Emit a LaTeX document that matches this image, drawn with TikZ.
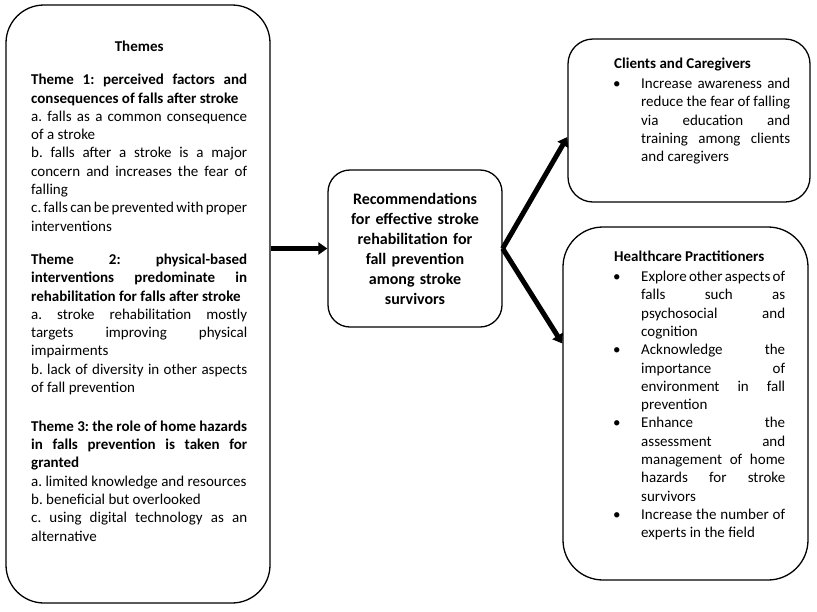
\documentclass[tikz,border=0pt]{standalone}
\usepackage{fontspec}
\setmainfont{Carlito}
\usetikzlibrary{arrows.meta}
\setlength{\parindent}{0pt}
\hyphenpenalty=10000
\tolerance=9999
\hbadness=10000
\frenchspacing
\newcommand{\recitem}[1]{\par\hangindent=27pt\hangafter=1\noindent\makebox[27pt][l]{\hspace{-1pt}\textbullet}#1\par}

\begin{document}
\begin{tikzpicture}[x=1pt,y=-1pt]
\tikzstyle{framebox}=[draw,line width=1.3pt,inner sep=0pt]
\tikzstyle{bigbox}=[framebox,rounded corners=38pt]
\tikzstyle{smallbox}=[framebox,rounded corners=23pt]
\tikzstyle{bodytext}=[inner sep=0pt,anchor=north west,align=justify,font=\fontsize{15}{18.3}\selectfont]
\tikzstyle{flowarrow}=[-{Triangle[length=9pt,width=12pt]},line width=5pt]
\useasboundingbox (0,0) rectangle (817,611);
% boxes
\node[bigbox,minimum width=264pt,minimum height=598pt] (themes) at (138,304) {};
\node[smallbox,rounded corners=22pt,minimum width=174pt,minimum height=157pt,text width=160pt,align=center,font=\bfseries\fontsize{16}{20}\selectfont] (rec) at (415,248.5) {Recommendations\\ for effective stroke\\ rehabilitation for\\ fall prevention\\ among stroke\\ survivors};
\node[smallbox,rounded corners=25pt,minimum width=242pt,minimum height=163pt] (clients) at (689,120.5) {};
\node[bigbox,rounded corners=40pt,minimum width=245pt,minimum height=353pt] (practitioners) at (685.5,403.5) {};
% texts
\node[bodytext,text width=216pt] (themestext) at (31,41) {%
{\centering\bfseries Themes\par}
\vspace{14.7pt}
\textbf{Theme 1: perceived factors and\linebreak consequences of falls after stroke}\par
a. falls as a common consequence\linebreak of a stroke\par
b. falls after a stroke is a major\linebreak concern and increases the fear of\linebreak falling\par
c. falls can be prevented with proper\linebreak interventions\par
\vspace{15pt}
\textbf{Theme 2: physical-based\linebreak interventions predominate in\linebreak rehabilitation for falls after stroke}\par
a. stroke rehabilitation mostly\linebreak targets improving physical\linebreak impairments\par
b. lack of diversity in other aspects\linebreak of fall prevention\par
\vspace{20.5pt}
\textbf{Theme 3: the role of home hazards\linebreak in falls prevention is taken for\linebreak granted}\par
a. limited knowledge and resources\par
b. beneficial but overlooked\par
c. using digital technology as an\linebreak alternative\par};
\node[bodytext,text width=176pt] (clientstext) at (614,58) {%
\textbf{Clients and Caregivers}\par
\vspace{1.5pt}
\recitem{Increase awareness and\linebreak reduce the fear of falling\linebreak via education and\linebreak training among clients\linebreak and caregivers}};
\node[bodytext,text width=171pt] (practtext) at (614,251) {%
\textbf{Healthcare Practitioners}\par
\vspace{1.5pt}
\recitem{Explore other aspects of\linebreak falls such as\linebreak psychosocial and\linebreak cognition}
\recitem{Acknowledge the\linebreak importance of\linebreak environment in fall\linebreak prevention}
\recitem{Enhance the\linebreak assessment and\linebreak management of home\linebreak hazards for stroke\linebreak survivors}
\recitem{Increase the number of\linebreak experts in the field}};
% arrows
\draw[flowarrow] (themes.east |- rec.west) -- (rec.west);
\draw[flowarrow] (rec.east) -- ([yshift=-16.5pt]clients.west);
\draw[flowarrow] (rec.east) -- ([yshift=60pt]practitioners.west);
\end{tikzpicture}
\end{document}
